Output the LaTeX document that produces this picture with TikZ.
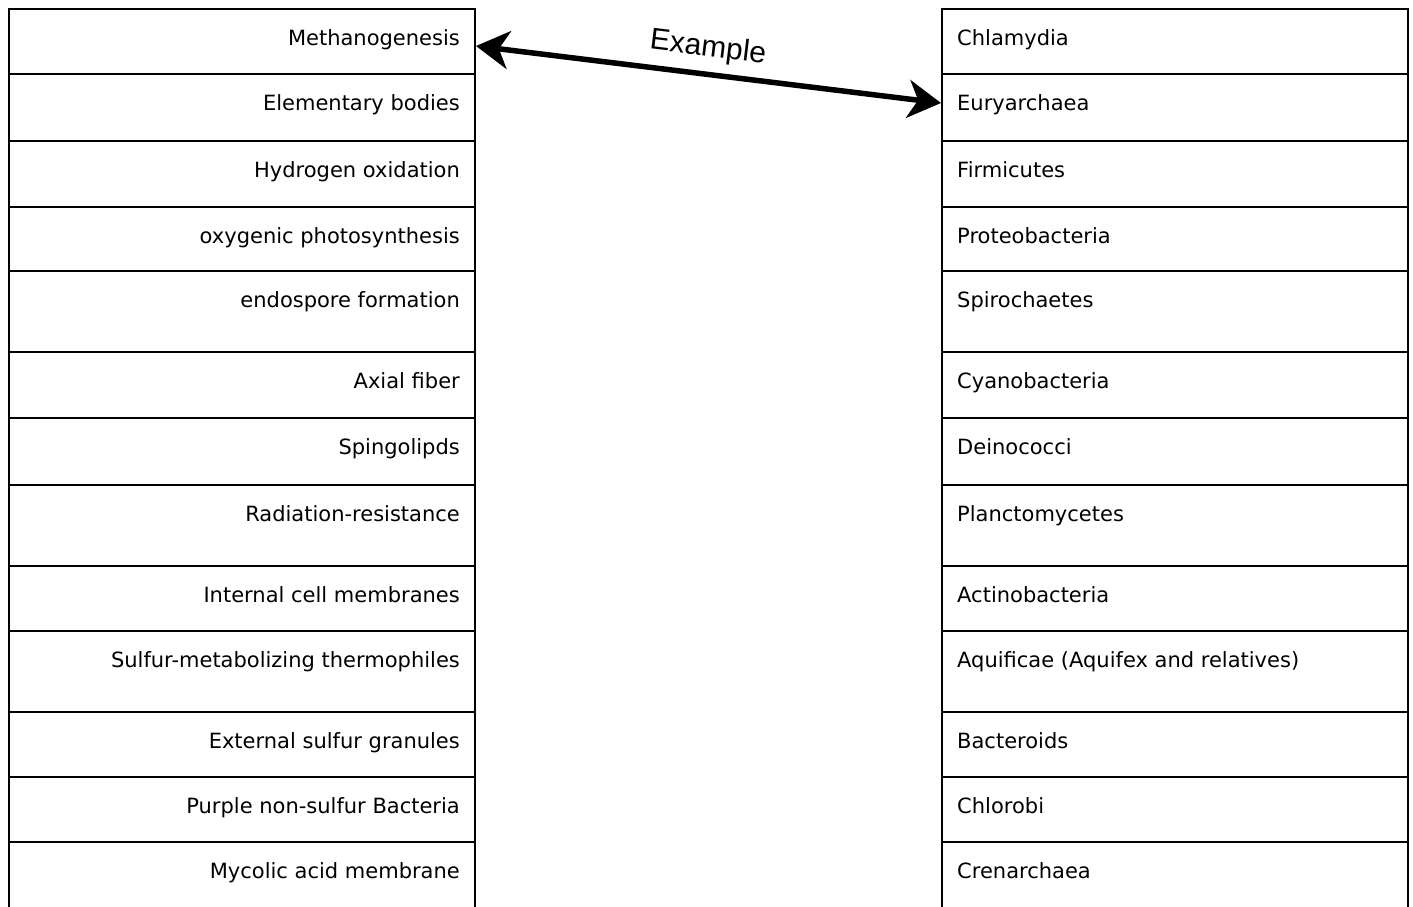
\documentclass[tikz,border=0pt]{standalone}
\usepackage{fontspec}
\setmainfont{DejaVu Sans}
\newfontfamily\labelfont{Liberation Sans}
\usetikzlibrary{arrows.meta,calc}
\begin{document}
\begin{tikzpicture}[x=1pt,y=-1pt,
  cell/.style={draw=black,line width=2pt,rectangle,inner sep=0pt,minimum width=466pt,anchor=north west},
  ltext/.style={anchor=base east,inner sep=0pt,font=\fontsize{21}{24}\selectfont},
  rtext/.style={anchor=base west,inner sep=0pt,font=\fontsize{21}{24}\selectfont},
  linkarrow/.style={line width=5.5pt,{Stealth[length=33pt,width=38pt,inset=10pt]}-{Stealth[length=33pt,width=38pt,inset=10pt]}},
  linklabel/.style={anchor=base,inner sep=0pt,font=\labelfont\fontsize{30}{34}\selectfont,rotate=-6.9}]
\useasboundingbox (0,0) rectangle (1413,906);
\clip (0,0) rectangle (1413,906);
\def\rows{1/8/73/Methanogenesis/Chlamydia,
2/73/140/Elementary bodies/Euryarchaea,
3/140/206/Hydrogen oxidation/Firmicutes,
4/206/270/oxygenic photosynthesis/Proteobacteria,
5/270/351/endospore formation/Spirochaetes,
6/351/417/Axial fiber/Cyanobacteria,
7/417/484/Spingolipds/Deinococci,
8/484/565/Radiation-resistance/Planctomycetes,
9/565/630/Internal cell membranes/Actinobacteria,
10/630/711/Sulfur-metabolizing thermophiles/Aquificae (Aquifex and relatives),
11/711/776/External sulfur granules/Bacteroids,
12/776/841/Purple non-sulfur Bacteria/Chlorobi,
13/841/910/Mycolic acid membrane/Crenarchaea}
\foreach \i/\t/\b/\lt/\rt in \rows {
  \pgfmathsetmacro{\h}{\b-\t}
  \node[cell,minimum height=\h pt] (L\i) at (8,\t) {};
  \node[cell,minimum height=\h pt] (R\i) at (941,\t) {};
  \node[ltext] (LT\i) at ($(L\i.north east)+(-16,37)$) {\lt};
  \node[rtext] (RT\i) at ($(R\i.north west)+(16,37)$) {\rt};
}
\coordinate (a1) at ($(L1.north east)+(0,38)$);
\coordinate (a2) at ($(R2.north west)+(0,30)$);
\draw[linkarrow] (a1) -- (a2);
\node[linklabel] (ex) at (707,56) {Example};
\end{tikzpicture}
\end{document}
